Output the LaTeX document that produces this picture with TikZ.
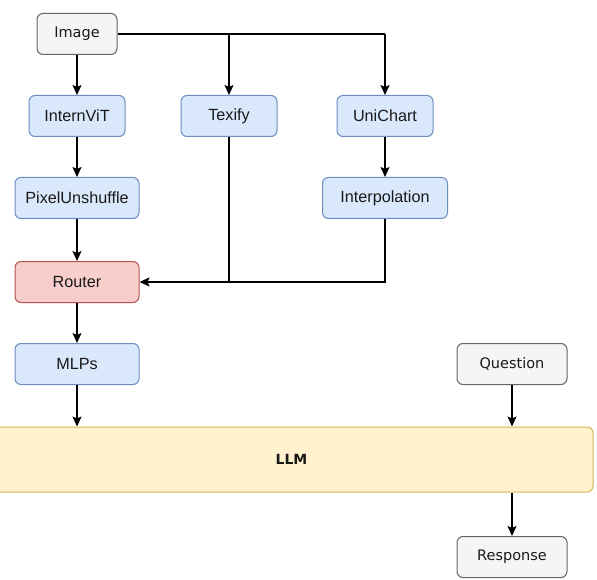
\documentclass[tikz,border=0pt]{standalone}
\usepackage{fontspec}
\setmainfont{Liberation Sans}
\newfontfamily\comicf{DejaVu Sans}
\usetikzlibrary{arrows.meta}
\definecolor{bfill}{HTML}{DAE8FC}\definecolor{bdraw}{HTML}{6C8EBF}
\definecolor{rfill}{HTML}{F8CECC}\definecolor{rdraw}{HTML}{B85450}
\definecolor{gfill}{HTML}{F5F5F5}\definecolor{gdraw}{HTML}{666666}
\definecolor{yfill}{HTML}{FFF2CC}\definecolor{ydraw}{HTML}{D6B656}
\tikzset{
  base/.style={rectangle, rounded corners=6pt, line width=1pt, minimum height=41pt, inner sep=0pt, font=\fontsize{16.2}{19}\selectfont, text=black!90},
  bluebox/.style={base, fill=bfill, draw=bdraw},
  redbox/.style={base, fill=rfill, draw=rdraw},
  graybox/.style={base, fill=gfill, draw=gdraw, font=\comicf\fontsize{14.5}{17}\selectfont},
  llmbox/.style={base, fill=yfill, draw=ydraw, font=\comicf\bfseries\fontsize{14}{17}\selectfont},
  arr/.style={line width=1.4pt, -{Stealth[length=10pt,width=9pt,inset=2pt]}},
  ln/.style={line width=1.4pt}
}
\begin{document}
\begin{tikzpicture}[x=1pt,y=-1pt]
\useasboundingbox (0,0) rectangle (597,580);
\node[graybox, minimum width=80pt] (img) at (77,34) {Image};
\node[bluebox, minimum width=96pt] (vit) at (77,116) {InternViT};
\node[bluebox, minimum width=96pt] (tex) at (229,116) {Texify};
\node[bluebox, minimum width=96pt] (uni) at (385,116) {UniChart};
\node[bluebox, minimum width=124pt] (pix) at (77,198) {PixelUnshuffle};
\node[bluebox, minimum width=125pt] (interp) at (385,198) {Interpolation};
\node[redbox, minimum width=124pt] (router) at (77,282) {Router};
\node[bluebox, minimum width=124pt] (mlp) at (77,364) {MLPs};
\node[llmbox, minimum width=603pt, minimum height=65pt] (llm) at (291.5,459.5) {LLM};
\node[graybox, minimum width=110pt] (q) at (512,364) {Question};
\node[graybox, minimum width=110pt] (resp) at (512,557) {Response};
\coordinate (j1) at (229,34);
\coordinate (j2) at (385,34);
\coordinate (j3) at (229,282);
\coordinate (j4) at (385,282);
\draw[arr] (img) -- (vit);
\draw[ln] (img.east) -- (j2);
\draw[arr] (j1) -- (tex.north);
\draw[arr] (j2) -- (uni.north);
\draw[arr] (vit) -- (pix);
\draw[arr] (uni) -- (interp);
\draw[arr] (pix) -- (router);
\draw[ln] (tex.south) -- (j3);
\draw[ln] (interp.south) -- (j4) -- (j3);
\draw[arr] (j3) -- (router.east);
\draw[arr] (router) -- (mlp);
\draw[arr] (mlp.south) -- (mlp.south |- llm.north);
\draw[arr] (q.south) -- (q.south |- llm.north);
\draw[arr] (resp.north |- llm.south) -- (resp.north);
\end{tikzpicture}
\end{document}
